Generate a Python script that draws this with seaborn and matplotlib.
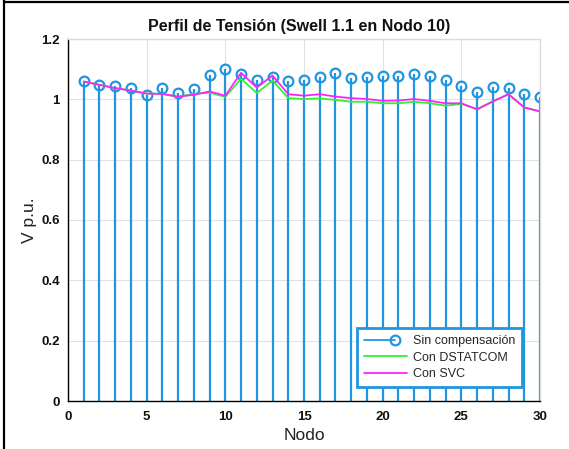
import numpy as np
import pandas as pd
import matplotlib
matplotlib.use("Agg")
import matplotlib.pyplot as plt
import seaborn as sns
from matplotlib.lines import Line2D
from matplotlib.legend_handler import HandlerLine2D

# Voltage profile per node (p.u.)
nodes = list(range(1, 31))
v_sin = [1.060, 1.048, 1.043, 1.037, 1.013, 1.036, 1.020, 1.033, 1.082, 1.100,
         1.085, 1.065, 1.075, 1.060, 1.063, 1.075, 1.087, 1.071, 1.073, 1.077,
         1.078, 1.084, 1.078, 1.065, 1.043, 1.025, 1.040, 1.037, 1.019, 1.008]
v_dstatcom = [1.059, 1.048, 1.037, 1.029, 1.019, 1.018, 1.008, 1.018, 1.022, 1.008,
              1.068, 1.021, 1.062, 1.004, 1.001, 1.003, 0.998, 0.992, 0.992, 0.987,
              0.987, 0.992, 0.987, 0.979, 0.985, 0.967, 0.993, 1.017, 0.973, 0.960]
v_svc = [1.059, 1.048, 1.037, 1.029, 1.019, 1.018, 1.009, 1.015, 1.026, 1.012,
         1.088, 1.039, 1.079, 1.017, 1.012, 1.017, 1.009, 1.004, 1.001, 0.995,
         0.996, 1.001, 0.995, 0.987, 0.987, 0.967, 0.993, 1.017, 0.973, 0.960]

x_ticks = [0, 5, 10, 15, 20, 25, 30]
y_ticks = [0, 0.2, 0.4, 0.6, 0.8, 1.0, 1.2]
y_tick_labels = ["0", "0.2", "0.4", "0.6", "0.8", "1", "1.2"]
series_labels = ["Sin compensación", "Con DSTATCOM", "Con SVC"]

STEM = "#2196e0"
GREEN = "#33f033"
MAGENTA = "#ff22ff"


class StemHandler(HandlerLine2D):
    """Legend entry: a shorter line ending in the stem marker."""
    def create_artists(self, legend, orig_handle, xdescent, ydescent,
                       width, height, fontsize, trans):
        arts = super().create_artists(legend, orig_handle, xdescent, ydescent,
                                      width, height, fontsize, trans)
        line = arts[0]
        y = (height - ydescent) / 2
        line.set_data([-xdescent, -xdescent + width * 0.72], [y, y])
        line.set_markevery([1])
        return arts


sns.set_theme(style="whitegrid")
plt.rcParams["font.family"] = ["Liberation Sans", "DejaVu Sans"]

fig = plt.figure(figsize=(5.69, 4.49), dpi=100)
ax = fig.add_axes([68 / 569, 48 / 449, 472 / 569, 362 / 449])
ax.set_facecolor("white")

markerline, stemlines, baseline = ax.stem(nodes, v_sin, linefmt="-",
                                          markerfmt="o", basefmt=" ")
stemlines.set_color(STEM)
stemlines.set_linewidth(1.6)
markerline.set_markerfacecolor("none")
markerline.set_markeredgecolor(STEM)
markerline.set_markersize(7)
markerline.set_markeredgewidth(1.6)

df = pd.DataFrame({"Nodo": nodes, "DSTATCOM": v_dstatcom, "SVC": v_svc})
sns.lineplot(data=df, x="Nodo", y="DSTATCOM", color=GREEN, lw=1.3, ax=ax)
sns.lineplot(data=df, x="Nodo", y="SVC", color=MAGENTA, lw=1.3, ax=ax)

ax.set_xlim(0, 30)
ax.set_ylim(0, 1.2)
ax.set_xticks(x_ticks)
ax.set_xticklabels([str(t) for t in x_ticks], fontweight="bold")
ax.set_yticks(y_ticks)
ax.set_yticklabels(y_tick_labels, fontweight="bold")
ax.tick_params(axis="both", direction="in", length=4, width=0.8,
               color="black", labelsize=9.5, labelcolor="#111111")
ax.tick_params(axis="x", pad=7)
ax.tick_params(axis="y", pad=6)

ax.grid(True, color="#e2e2e2", lw=0.8)
ax.set_axisbelow(True)
for side in ("left", "bottom"):
    ax.spines[side].set_color("black")
    ax.spines[side].set_linewidth(1.0)
for side in ("top", "right"):
    ax.spines[side].set_color("#dcdcdc")
    ax.spines[side].set_linewidth(1.0)

ax.set_title("Perfil de Tensión (Swell 1.1 en Nodo 10)", fontsize=11.5,
             fontweight="bold", pad=6, color="#111111", x=0.49)
ax.set_xlabel("Nodo", fontsize=12.5, color="#222222")
ax.xaxis.set_label_coords(0.5, -0.075)
ax.set_ylabel("V p.u.", fontsize=12.5, labelpad=3, color="#222222")

h1 = Line2D([], [], color=STEM, lw=1.3, marker="o", mfc="none",
            mec=STEM, ms=7, mew=1.6)
h2 = Line2D([], [], color=GREEN, lw=1.3)
h3 = Line2D([], [], color=MAGENTA, lw=1.3)
leg = ax.legend([h1, h2, h3], series_labels, handler_map={h1: StemHandler()},
                loc="lower right", bbox_to_anchor=(0.962, 0.039),
                borderaxespad=0, frameon=True, fancybox=False, fontsize=9,
                handlelength=3.4, handletextpad=0.5, labelspacing=0.35,
                borderpad=0.55)
frame = leg.get_frame()
frame.set_edgecolor(STEM)
frame.set_linewidth(2)
frame.set_facecolor("white")
frame.set_alpha(1)

# Outer frame lines on the left and top of the figure
fig.add_artist(Line2D([4 / 569, 4 / 569], [0, 1], transform=fig.transFigure,
                      color="black", lw=1.6))
fig.add_artist(Line2D([4 / 569, 1], [1 - 2 / 449, 1 - 2 / 449],
                      transform=fig.transFigure, color="black", lw=1.6))

fig.savefig("out.png", dpi=100)
